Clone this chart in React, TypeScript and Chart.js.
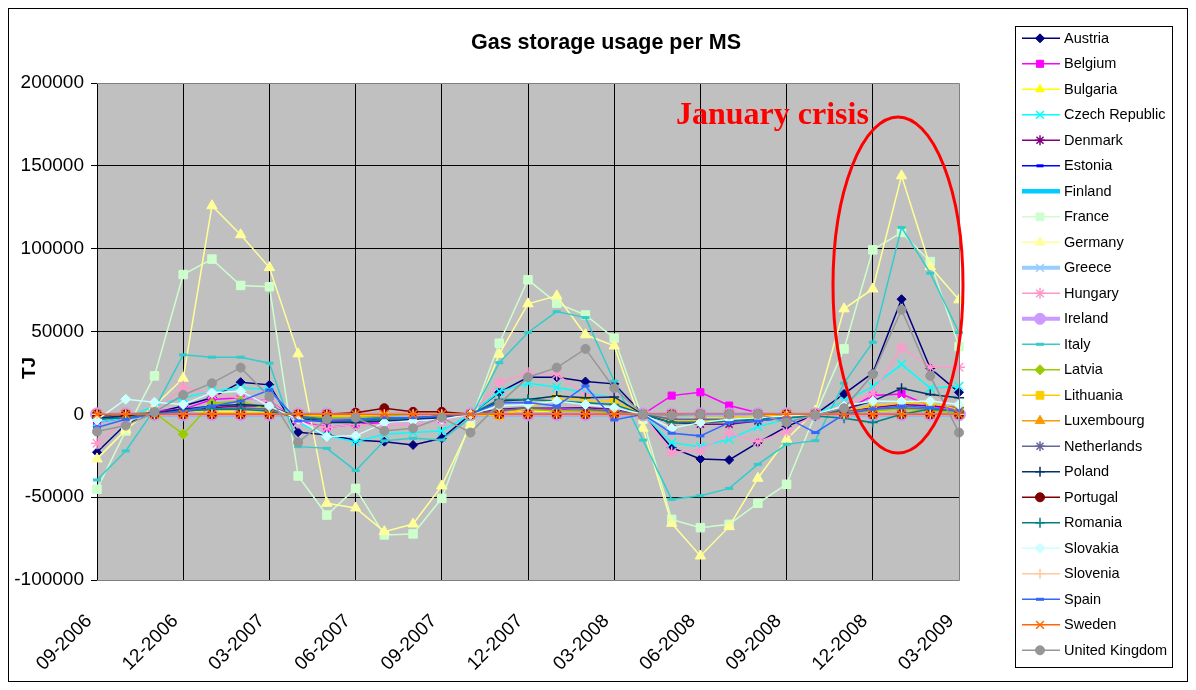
import React, { useEffect, useRef } from 'react';
import { Chart, registerables } from 'chart.js';
import { drawPoint } from 'chart.js/helpers';

Chart.register(...registerables);

const months = [
  '09-2006', '10-2006', '11-2006', '12-2006',
  '01-2007', '02-2007', '03-2007', '04-2007', '05-2007', '06-2007', '07-2007', '08-2007', '09-2007', '10-2007', '11-2007', '12-2007',
  '01-2008', '02-2008', '03-2008', '04-2008', '05-2008', '06-2008', '07-2008', '08-2008', '09-2008', '10-2008', '11-2008', '12-2008',
  '01-2009', '02-2009', '03-2009',
];

const tickLabels = ['09-2006', '12-2006', '03-2007', '06-2007', '09-2007', '12-2007', '03-2008', '06-2008', '09-2008', '12-2008', '03-2009'];

const yTicks = [-100000, -50000, 0, 50000, 100000, 150000, 200000];

const countries = [
  'Austria', 'Belgium', 'Bulgaria', 'Czech Republic', 'Denmark', 'Estonia', 'Finland', 'France', 'Germany', 'Greece',
  'Hungary', 'Ireland', 'Italy', 'Latvia', 'Lithuania', 'Luxembourg', 'Netherlands', 'Poland', 'Portugal', 'Romania',
  'Slovakia', 'Slovenia', 'Spain', 'Sweden', 'United Kingdom',
];

const austria = [-22900, -6000, 1000, 5000, 10000, 19400, 17800, -10800, -12400, -15500, -16500, -18500, -14500, 0, 13300, 22400, 22400, 19800, 18400, 0, -20100, -26900, -27500, -17100, -7400, 0, 12300, 25000, 69500, 27800, 13300];
const belgium = [-5000, -2000, 2000, 3000, 9000, 10000, 8000, -4000, -8000, -6000, -5000, -4000, -3000, 0, 2000, 3000, 3000, 2000, 2000, 0, 11300, 13300, 5300, 1000, 0, 0, 2000, 11300, 12300, 5000, 3000];
const bulgaria = [-1000, -500, 500, 1000, 1500, 1500, 1000, -500, -1000, -1000, -1000, -500, 0, 0, 1000, 1500, 1500, 1000, 500, 0, -1000, -1500, -1500, -1000, -500, 0, 1000, 1500, 3000, 1500, 1000];
const czechRepublic = [-5000, -2000, 5000, 10000, 14000, 16000, 15000, -5000, -13000, -16500, -12000, -11000, -10000, 0, 13700, 18800, 16300, 13000, 10000, 0, -17100, -19500, -15000, -7400, -3000, 0, 8000, 16700, 30200, 15700, 17000];
const denmark = [-3000, -1000, 1000, 2000, 4000, 5000, 5000, -2000, -4000, -4000, -3000, -2000, -2000, 0, 3000, 4000, 4000, 4000, 3000, 0, -5000, -6000, -6000, -4000, -2000, 0, 2000, 4000, 6000, 5000, 4000];
const estonia = [0, 0, 0, 0, 0, 0, 0, 0, 0, 0, 0, 0, 0, 0, 0, 0, 0, 0, 0, 0, 0, 0, 0, 0, 0, 0, 0, 0, 0, 0, 0];
const finland = [0, 0, 0, 0, 0, 0, 0, 0, 0, 0, 0, 0, 0, 0, 0, 0, 0, 0, 0, 0, 0, 0, 0, 0, 0, 0, 0, 0, 0, 0, 0];
const france = [-45200, -10000, 23200, 84400, 93700, 77800, 77000, -37200, -60800, -44700, -72800, -72200, -50700, -4400, 42900, 81200, 67100, 60000, 46000, -3000, -63400, -68400, -66400, -53700, -42200, 0, 39500, 99300, 109800, 92200, 40900];
const germany = [-26900, -9400, 5000, 21800, 125900, 108400, 88600, 36500, -53700, -56500, -70800, -66200, -43200, -6400, 36300, 66700, 71500, 48000, 41300, -8400, -65800, -85500, -67800, -38600, -15000, 2000, 63700, 75700, 144000, 89200, 69100];
const greece = [0, 0, 0, 0, 0, 0, 0, 0, 0, 0, 0, 0, 0, 0, 0, 0, 0, 0, 0, 0, 0, 0, 0, 0, 0, 0, 0, 0, 0, 0, 0];
const hungary = [-17500, -3000, 2000, 16700, 12000, 10000, 8000, -5000, -8000, -6000, -7000, -6000, -4000, 0, 19200, 24800, 24200, 11700, 10000, 0, -23100, -21500, -11400, -16500, -10400, 0, 5000, 12700, 40300, 28400, 28400];
const ireland = [0, 0, 0, 0, 0, 0, 0, 0, 0, 0, 0, 0, 0, 0, 0, 0, 0, 0, 0, 0, 0, 0, 0, 0, 0, 0, 0, 0, 0, 0, 0];
const italy = [-39600, -22100, 3000, 35900, 34500, 34500, 30900, -19500, -20500, -34000, -16000, -14500, -15500, -2000, 31200, 49400, 62000, 58400, 20000, -15600, -51300, -49100, -44700, -30200, -18100, -15900, 18800, 43500, 112800, 85200, 49400];
const latvia = [0, 0, 1000, -12000, 6700, 8100, 3000, 0, -2000, -2000, -1000, 0, 0, 0, 2000, 3000, 2000, 2000, 1000, 0, -3000, -4000, -3000, -2000, 0, 0, 1000, 2000, 3000, 2000, 1000];
const lithuania = [0, 0, 0, 0, 1000, 1000, 1000, 0, -1000, -1000, 0, 0, 0, 0, -1000, 4000, 9700, 8500, 7700, 0, -3400, -3400, -2000, -1000, 0, 0, 2000, 5000, 6900, 6900, 3000];
const luxembourg = [0, 0, 0, 0, 0, 0, 0, 0, 0, 0, 0, 0, 0, 0, 0, 0, 0, 0, 0, 0, 0, 0, 0, 0, 0, 0, 0, 0, 0, 0, 0];
const netherlands = [-1000, 0, 1000, 2000, 3000, 4000, 3000, -1000, -3000, -3000, -2000, -2000, -1000, 0, 2000, 4000, 4000, 3000, 2000, 0, -3000, -3000, -3000, -2000, -1000, 0, 2000, 3000, 4000, 3000, 2000];
const poland = [-2000, -1000, 1000, 3000, 5000, 6000, 5000, -2000, -5000, -5000, -4000, -3000, -2000, 0, 8000, 9000, 11100, 10000, 10500, 0, -5000, -5000, -4000, -3000, -1000, 0, 3000, 8000, 15700, 12000, 10000];
const portugal = [0, 0, 0, 0, 0, 0, 0, 0, 0, 1000, 3700, 1500, 1500, 0, 0, 0, 0, 0, 0, 0, 0, 0, 0, 0, 0, 0, 0, 0, 0, 0, 0];
const romania = [-3000, -2000, 0, 2000, 3000, 3000, 2000, -2000, -3000, -4000, -3000, -2000, -1000, 0, 9000, 9000, 8000, 7000, 6000, 0, -5000, -5000, -4000, -3000, -2000, -1000, -2400, -5000, 0, 3000, 2000];
const slovakia = [-3400, 9100, 7300, 6000, 13100, 14000, 5000, -3000, -13400, -13000, -5000, -4000, -3000, 0, 5000, 6000, 8000, 6000, 4000, 0, -8400, -5000, -3000, -2000, -1000, 0, 5000, 8000, 7700, 8000, 6000];
const slovenia = [0, 0, 0, 0, 0, 0, 0, 0, 0, 0, 0, 0, 0, 0, 0, 0, 0, 0, 0, 0, 0, 0, 0, 0, 0, 0, 0, 0, 0, 0, 0];
const spain = [-8000, -3000, 0, 2000, 5000, 8000, 14700, -4000, -4000, -3000, -2000, -2000, -1000, 0, 7000, 7100, 5000, 17100, -3400, 0, -11400, -13000, -5000, -4000, -2000, -11000, 0, 3000, 5000, 4000, 2000];
const sweden = [0, 0, 0, 0, 0, 0, 0, 0, 0, 0, 0, 0, 0, 0, 0, 0, 0, 0, 0, 0, 0, 0, 0, 0, 0, 0, 0, 0, 0, 0, 0];
const unitedKingdom = [-10400, -6800, 1300, 11700, 18800, 28200, 10700, -16900, -3000, -2000, -10000, -8400, -2000, -11000, 6300, 22400, 28200, 39500, 15800, 0, -500, 0, 0, 0, -4800, -400, 3700, 24200, 63100, 23200, -11000];

const seriesValues = [
  austria, belgium, bulgaria, czechRepublic, denmark, estonia, finland, france, germany, greece,
  hungary, ireland, italy, latvia, lithuania, luxembourg, netherlands, poland, portugal, romania,
  slovakia, slovenia, spain, sweden, unitedKingdom,
];

// styles (kept separate from the data)
const colors = [
  '#000080', '#FF00FF', '#FFFF00', '#00FFFF', '#800080', '#0000FF', '#00CCFF', '#CCFFCC', '#FFFF99', '#99CCFF',
  '#FF99CC', '#CC99FF', '#33CCCC', '#99CC00', '#FFCC00', '#FF9900', '#666699', '#003366', '#800000', '#008080',
  '#CCFFFF', '#FFCC99', '#3366FF', '#FF6600', '#969696',
];
const pointStyles = [
  'rectRot', 'rect', 'triangle', 'crossRot', 'star', 'line', 'circle', 'rect', 'triangle', 'crossRot',
  'star', 'circle', 'line', 'rectRot', 'rect', 'triangle', 'star', 'cross', 'circle', 'cross',
  'rectRot', 'cross', 'line', 'crossRot', 'circle',
];
const pointRadii = [
  4.5, 5, 5, 6, 5, 3.5, 0, 6, 6, 6,
  6, 6.5, 4, 5, 5.5, 5.5, 5, 5, 4.5, 5,
  5, 5, 4, 6, 4.5,
];
const lineWidths = [
  1.5, 1.5, 1.5, 1.5, 1.5, 1.5, 4.5, 1.5, 1.5, 4,
  1.5, 4, 1.5, 1.5, 1.5, 1.5, 1.5, 1.5, 1.5, 1.5,
  1.5, 1.5, 1.5, 1.5, 1.5,
];

const FONT = "'Liberation Sans', Arial, sans-serif";

const decoPlugin = {
  id: 'deco',
  beforeDraw(chart: any) {
    const { ctx, chartArea: a } = chart;
    ctx.save();
    ctx.fillStyle = '#FFFFFF';
    ctx.fillRect(0, 0, chart.width, chart.height);
    ctx.fillStyle = '#C0C0C0';
    ctx.fillRect(a.left, a.top, a.right - a.left, a.bottom - a.top);
    ctx.restore();
  },
  afterDraw(chart: any) {
    const { ctx, chartArea: a } = chart;
    ctx.save();
    ctx.strokeStyle = '#808080';
    ctx.lineWidth = 1;
    ctx.beginPath();
    ctx.moveTo(a.left, a.top + 0.5);
    ctx.lineTo(a.right + 0.5, a.top + 0.5);
    ctx.lineTo(a.right + 0.5, a.bottom + 0.5);
    ctx.lineTo(a.left, a.bottom + 0.5);
    ctx.stroke();

    ctx.strokeStyle = '#000000';
    ctx.strokeRect(0.5, 0.5, chart.width - 1, chart.height - 1);

    ctx.fillStyle = '#000000';
    ctx.font = `bold 21.5px ${FONT}`;
    ctx.textAlign = 'center';
    ctx.textBaseline = 'middle';
    ctx.fillText('Gas storage usage per MS', 598, 35);

    ctx.save();
    ctx.translate(22, 360);
    ctx.rotate(-Math.PI / 2);
    ctx.font = `bold 19px ${FONT}`;
    ctx.fillText('TJ', 0, 0);
    ctx.restore();

    ctx.fillStyle = '#FF0000';
    ctx.font = "bold 32px 'Liberation Serif', 'Times New Roman', serif";
    ctx.textAlign = 'left';
    ctx.textBaseline = 'alphabetic';
    ctx.fillText('January crisis', 668, 116);

    ctx.strokeStyle = '#FF0000';
    ctx.lineWidth = 3;
    ctx.beginPath();
    ctx.ellipse(890, 277, 65, 168, 0, 0, Math.PI * 2);
    ctx.stroke();

    const lx = 1007, ly = 18, lw = 157, lh = 641;
    ctx.strokeStyle = '#000000';
    ctx.lineWidth = 1;
    ctx.strokeRect(lx + 0.5, ly + 0.5, lw, lh);
    const y0 = 30.3, dy = 25.5;
    chart.data.datasets.forEach((ds: any, i: number) => {
      const y = y0 + i * dy;
      ctx.strokeStyle = ds.borderColor;
      ctx.lineWidth = ds.borderWidth;
      ctx.beginPath();
      ctx.moveTo(1014, y);
      ctx.lineTo(1052, y);
      ctx.stroke();
      if (ds.pointRadius > 0) {
        ctx.fillStyle = ds.pointBackgroundColor;
        ctx.strokeStyle = ds.pointBorderColor;
        ctx.lineWidth = ds.pointBorderWidth;
        drawPoint(ctx, { pointStyle: ds.pointStyle, radius: Math.min(ds.pointRadius, 5.5), rotation: 0, borderWidth: ds.pointBorderWidth }, 1032, y);
      }
      ctx.fillStyle = '#000000';
      ctx.font = `14.5px ${FONT}`;
      ctx.textAlign = 'left';
      ctx.textBaseline = 'middle';
      ctx.fillText(ds.label, 1056, y + 0.5);
    });
    ctx.restore();
  },
};

export default function App() {
  const ref = useRef<HTMLCanvasElement | null>(null);

  useEffect(() => {
    const canvas = ref.current;
    if (!canvas) return;
    const n = countries.length;
    const datasets = countries.map((name, i) => {
      const st = pointStyles[i];
      const isStroke = st === 'line' || st === 'cross' || st === 'crossRot' || st === 'star';
      return {
        label: name,
        data: seriesValues[i],
        borderColor: colors[i],
        backgroundColor: colors[i],
        borderWidth: lineWidths[i],
        pointStyle: st,
        pointRadius: pointRadii[i],
        pointBackgroundColor: colors[i],
        pointBorderColor: colors[i],
        pointBorderWidth: st === 'line' ? 3 : isStroke ? 1.5 : 1,
        tension: 0,
        fill: false,
        order: n - i,
      };
    });

    const chart = new Chart(canvas, {
      type: 'line',
      data: { labels: months, datasets },
      options: {
        responsive: false,
        animation: false,
        devicePixelRatio: 1,
        layout: { padding: { left: 0, top: 75, right: 229, bottom: 0 } },
        plugins: {
          legend: { display: false },
          title: { display: false },
          tooltip: { enabled: false },
        },
        scales: {
          x: {
            type: 'category',
            offset: false,
            grid: {
              color: (c: any) => (c.index % 3 === 0 && c.index !== months.length - 1 ? '#000000' : 'rgba(0,0,0,0)'),
              drawTicks: false,
              lineWidth: 1,
            },
            border: { display: false },
            ticks: {
              autoSkip: false,
              maxRotation: 45,
              minRotation: 45,
              padding: 30,
              labelOffset: -8,
              color: '#000000',
              font: { family: FONT, size: 19 },
              callback: (_v: any, i: number) => (tickLabels.includes(months[i]) ? months[i] : ''),
            },
            afterFit: (s: any) => { s.height = 102; },
          },
          y: {
            min: yTicks[0],
            max: yTicks[yTicks.length - 1],
            afterBuildTicks: (s: any) => { s.ticks = yTicks.map((v) => ({ value: v })); },
            grid: {
              color: (c: any) => (c.tick && (c.tick.value === 200000 || c.tick.value === -100000) ? '#808080' : '#000000'),
              tickColor: '#000000',
              tickLength: 6,
              lineWidth: 1,
            },
            border: { display: true, color: '#000000' },
            ticks: {
              color: '#000000',
              padding: 7,
              font: { family: FONT, size: 19 },
              callback: (v: any) => String(v),
            },
            afterFit: (s: any) => { s.width = 89; },
          },
        },
      },
      plugins: [decoPlugin],
    } as any);

    return () => chart.destroy();
  }, []);

  return (
    <div style={{ width: 1180, height: 674 }}>
      <canvas ref={ref} width={1180} height={674} style={{ display: 'block' }} />
    </div>
  );
}
